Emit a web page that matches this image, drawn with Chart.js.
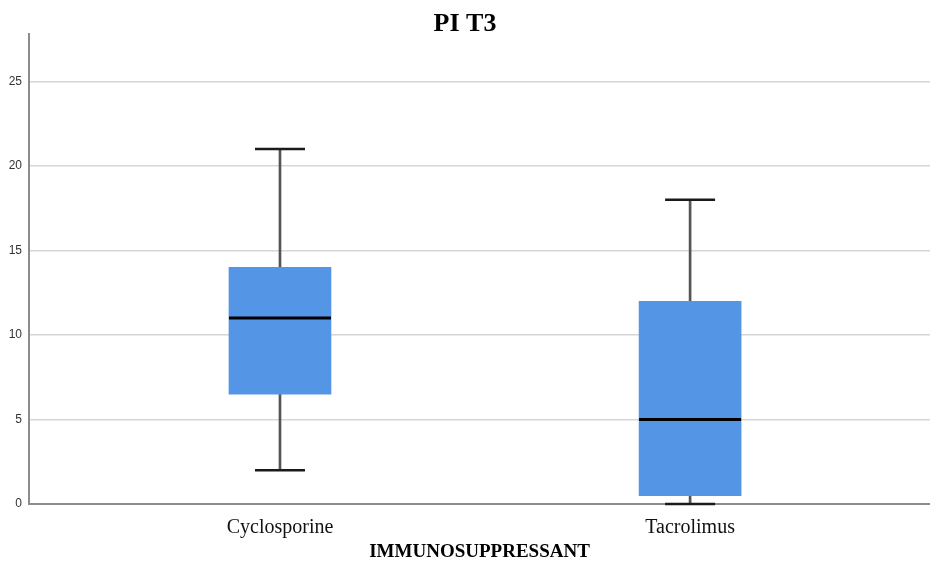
<!DOCTYPE html>
<html>
<head>
<meta charset="utf-8">
<script src="https://cdn.jsdelivr.net/npm/chart.js@4/dist/chart.umd.min.js"></script>
<style>
  body { margin: 0; background: #fff; }
  #wrap { width: 930px; height: 567px; }
</style>
</head>
<body>
<div id="wrap"><canvas id="chartBox"></canvas></div>
<script>
// DATOS
const categories = ['Cyclosporine', 'Tacrolimus'];
const minVals = [2, 0];
const q1Vals = [6.5, 0.5];
const medianVals = [11, 5];
const q3Vals = [14, 12];
const maxVals = [21, 18];
const yTicks = [0, 5, 10, 15, 20, 25];

// posicion de cada categoria en el eje x
const pos = categories.map((c, i) => i + 1);

const boxData = pos.map((x, i) => ({ x: x, y: [q1Vals[i], q3Vals[i]] }));
const lowWhisker = pos.map((x, i) => ({ x: x, y: [minVals[i], q1Vals[i]] }));
const highWhisker = pos.map((x, i) => ({ x: x, y: [q3Vals[i], maxVals[i]] }));
const medians = pos.map((x, i) => ({ x: x, y: medianVals[i] }));
const caps = pos.flatMap((x, i) => [{ x: x, y: minVals[i] }, { x: x, y: maxVals[i] }]);

// CHART BOXPLOT PI T3
const ctx = document.getElementById('chartBox');

new Chart(ctx, {
  data: {
    datasets: [
      {
        type: 'scatter',
        data: medians,
        pointStyle: 'line',
        pointRadius: 51,
        pointHoverRadius: 51,
        borderColor: '#000',
        borderWidth: 3,
        clip: false
      },
      {
        type: 'scatter',
        data: caps,
        pointStyle: 'line',
        pointRadius: 25,
        pointHoverRadius: 25,
        borderColor: '#1a1a1a',
        borderWidth: 2.5,
        clip: false
      },
      {
        type: 'bar',
        data: boxData,
        backgroundColor: '#5495e6',
        barThickness: 102,
        grouped: false
      },
      {
        type: 'bar',
        data: lowWhisker,
        backgroundColor: '#555',
        barThickness: 2,
        grouped: false
      },
      {
        type: 'bar',
        data: highWhisker,
        backgroundColor: '#555',
        barThickness: 2,
        grouped: false
      }
    ]
  },
  options: {
    responsive: true,
    maintainAspectRatio: false,
    animation: false,
    layout: { autoPadding: false, padding: 0 },
    plugins: {
      legend: { display: false },
      tooltip: { enabled: false },
      title: {
        display: true,
        text: 'PI T3',
        color: '#000',
        font: { family: 'Liberation Serif', size: 26, weight: 'bold' },
        padding: { top: 9, bottom: -6 }
      }
    },
    scales: {
      x: {
        type: 'linear',
        min: 0.388,
        max: 2.585,
        offset: false,
        afterBuildTicks: (scale) => {
          scale.ticks = pos.map(v => ({ value: v }));
        },
        afterFit: (scale) => {
          scale.height = 63;
        },
        ticks: {
          callback: (v) => categories[v - 1],
          color: '#111',
          font: { family: 'Liberation Serif', size: 20 },
          padding: 12,
          maxRotation: 0
        },
        grid: { display: false, drawTicks: false, offset: false },
        border: { display: true, color: '#8c8c8c', width: 2 },
        title: {
          display: true,
          text: 'IMMUNOSUPPRESSANT',
          color: '#000',
          font: { family: 'Liberation Serif', size: 19, weight: 'bold' },
          padding: { top: 2, bottom: 4 }
        }
      },
      y: {
        min: 0,
        max: 27.8,
        afterBuildTicks: (scale) => {
          scale.ticks = yTicks.map(v => ({ value: v }));
        },
        afterFit: (scale) => {
          scale.width = 29;
        },
        ticks: {
          color: '#333',
          font: { family: 'Liberation Sans', size: 12 },
          padding: 7
        },
        grid: { color: '#d6d6d6', lineWidth: 1.5, drawTicks: false },
        border: { display: true, color: '#8c8c8c', width: 2 }
      }
    }
  }
});
</script>
</body>
</html>
